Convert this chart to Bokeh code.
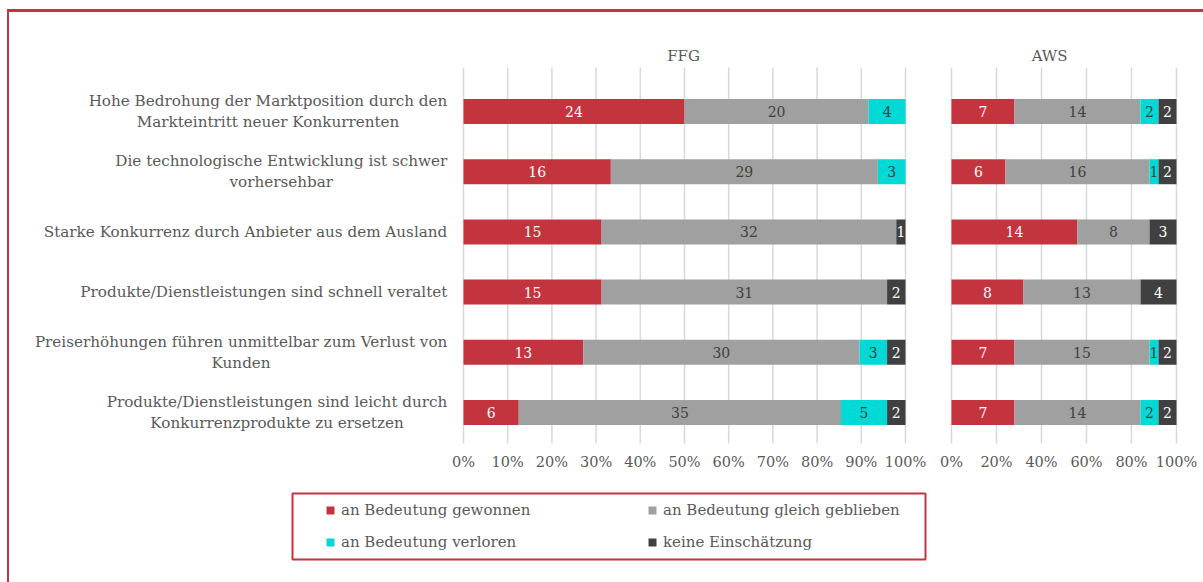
import glob
from bokeh.plotting import figure
from bokeh.models import Range1d, FixedTicker, Legend, LegendItem
from bokeh.layouts import column
from bokeh.core.properties import value
from bokeh.embed import file_html
from bokeh.resources import INLINE

# ---------------- data ----------------
categories = [
    "Hohe Bedrohung der Marktposition durch den\nMarkteintritt neuer Konkurrenten",
    "Die technologische Entwicklung ist schwer\nvorhersehbar",
    "Starke Konkurrenz durch Anbieter aus dem Ausland",
    "Produkte/Dienstleistungen sind schnell veraltet",
    "Preiserhöhungen führen unmittelbar zum Verlust von\nKunden",
    "Produkte/Dienstleistungen sind leicht durch\nKonkurrenzprodukte zu ersetzen",
]
series_names = ["an Bedeutung gewonnen", "an Bedeutung gleich geblieben",
                "an Bedeutung verloren", "keine Einschätzung"]
panel_titles = ["FFG", "AWS"]

ffg_gewonnen = [24, 16, 15, 15, 13, 6]
ffg_gleich = [20, 29, 32, 31, 30, 35]
ffg_verloren = [4, 3, 0, 0, 3, 5]
ffg_keine = [0, 0, 1, 2, 2, 2]

aws_gewonnen = [7, 6, 14, 8, 7, 7]
aws_gleich = [14, 16, 8, 13, 15, 14]
aws_verloren = [2, 1, 0, 0, 1, 2]
aws_keine = [2, 2, 3, 4, 2, 2]

ffg_ticks = [0, 10, 20, 30, 40, 50, 60, 70, 80, 90, 100]
aws_ticks = [0, 20, 40, 60, 80, 100]

# ---------------- style / layout ----------------
COLORS = ["#C4343F", "#A0A0A0", "#00D9D6", "#404040"]
VALUE_COLORS = ["#FFFFFF", "#404040", "#404040", "#FFFFFF"]
TEXT = "#595959"
GRID = "#D9D9D9"
RED = "#C4343F"
FONT_NAME = "DejaVu Serif"
FONT = value(FONT_NAME)
CAT_SIZE = 15.2

W1, H1 = 1194, 468
H2 = 102
PX_PER_UNIT = 442.0
AWS_OFF, AWS_SCALE = 1.10407, 0.50905
BAR_H = 0.415
LABEL_RIGHT = -0.0362

panels = [
    ([ffg_gewonnen, ffg_gleich, ffg_verloren, ffg_keine], 0.0, 1.0, ffg_ticks, 0.498, panel_titles[0]),
    ([aws_gewonnen, aws_gleich, aws_verloren, aws_keine], AWS_OFF, AWS_SCALE, aws_ticks, 1.326, panel_titles[1]),
]

rows = list(range(len(categories)))

# measure label widths (to centre multi-line labels like the original)
def text_width_px(s):
    try:
        from PIL import ImageFont
        paths = glob.glob("/usr/share/fonts/**/DejaVuSerif.ttf", recursive=True)
        f = ImageFont.truetype(paths[0], 100)
        return f.getlength(s) * CAT_SIZE / 100.0
    except Exception:
        return None

p = figure(width=W1, height=H1,
           x_range=Range1d(-1.02715, 1.67421), y_range=Range1d(5.515, -1.6445),
           output_backend="svg", toolbar_location=None,
           x_axis_location="below", y_axis_location=None,
           min_border_left=0, min_border_right=0, min_border_top=0, min_border_bottom=37,
           outline_line_color=None, background_fill_color="white", border_fill_color="white")
p.grid.visible = False

tick_pos = []
overrides = {}
for series, off, sc, ticks, tx, title in panels:
    gx = [round(off + sc * t / 100.0, 6) for t in ticks]
    p.segment(x0=gx, y0=[-0.731] * len(gx), x1=gx, y1=[5.6] * len(gx),
              line_color=GRID, line_width=1.5)
    for t, g in zip(ticks, gx):
        tick_pos.append(g)
        overrides[g] = f"{t}%"

for series, off, sc, ticks, tx, title in panels:
    totals = [sum(vals) for vals in zip(*series)]
    cum = [0] * len(rows)
    lx, ly, lt, lc = [], [], [], []
    for k, vals in enumerate(series):
        left = [off + sc * c / tot for c, tot in zip(cum, totals)]
        cum = [c + v for c, v in zip(cum, vals)]
        right = [off + sc * c / tot for c, tot in zip(cum, totals)]
        p.hbar(y=rows, left=left, right=right, height=BAR_H,
               fill_color=COLORS[k], line_color=None)
        for i, v in enumerate(vals):
            if v > 0:
                lx.append((left[i] + right[i]) / 2)
                ly.append(rows[i])
                lt.append(str(v))
                lc.append(VALUE_COLORS[k])
    p.text(x=lx, y=ly, text=lt, text_color=lc, text_font=FONT, text_font_size="14px",
           text_align="center", text_baseline="middle")
    p.text(x=[tx], y=[-0.93], text=[title],
           text_color=TEXT, text_font=FONT, text_font_size="15px",
           text_align="center", text_baseline="middle")

widths = [text_width_px(line) for c in categories for line in c.split("\n")]
if all(w is not None for w in widths):
    cx = []
    for c in categories:
        w = max(text_width_px(line) for line in c.split("\n"))
        cx.append(LABEL_RIGHT - w / 2.0 / PX_PER_UNIT)
    p.text(x=cx, y=rows, text=categories, text_color=TEXT, text_font=FONT,
           text_font_size=f"{CAT_SIZE}px", text_align="center", text_baseline="middle",
           text_line_height=1.18)
else:
    p.text(x=[LABEL_RIGHT] * len(rows), y=rows, text=categories, text_color=TEXT, text_font=FONT,
           text_font_size=f"{CAT_SIZE}px", text_align="right", text_baseline="middle",
           text_line_height=1.18)

ax = p.xaxis[0]
ax.ticker = FixedTicker(ticks=tick_pos)
ax.major_label_overrides = overrides
ax.axis_line_color = None
ax.major_tick_line_color = None
ax.minor_tick_line_color = None
ax.major_tick_out = 0
ax.major_label_standoff = 10
ax.major_label_text_font = FONT_NAME
ax.major_label_text_font_size = "14.5px"
ax.major_label_text_color = TEXT

# ---------------- legend figure ----------------
p2 = figure(width=W1, height=H2, x_range=Range1d(0, W1), y_range=Range1d(H2, 0),
            output_backend="svg", toolbar_location=None,
            x_axis_location=None, y_axis_location=None,
            min_border_left=0, min_border_right=0, min_border_top=0, min_border_bottom=0,
            outline_line_color=None, background_fill_color="white", border_fill_color="white")
p2.grid.visible = False
p2.quad(left=[283], right=[916], top=[13], bottom=[79], fill_color=None,
        line_color=RED, line_width=2)

# legend proxies (kept outside the visible area)
rs = [p2.scatter(x=[-100], y=[-100], marker="square", size=8, fill_color=c, line_color=None)
      for c in COLORS]

def make_legend(idx, loc):
    lg = Legend(items=[LegendItem(label=series_names[i], renderers=[rs[i]]) for i in idx],
                location=loc, orientation="vertical",
                border_line_color=None, background_fill_alpha=0,
                padding=0, margin=0, spacing=12,
                glyph_width=20, glyph_height=20, label_height=20, label_standoff=1,
                label_text_font=FONT_NAME, label_text_font_size="15px",
                label_text_color=TEXT)
    p2.add_layout(lg)

make_legend([0, 2], (311, 30))
make_legend([1, 3], (633, 30))

layout = column(p, p2, spacing=0,
                styles={"margin-left": "7px", "margin-top": "9px",
                        "border-left": f"2px solid {RED}", "border-top": f"3px solid {RED}"})

open("out.html", "w").write(file_html(layout, INLINE))
